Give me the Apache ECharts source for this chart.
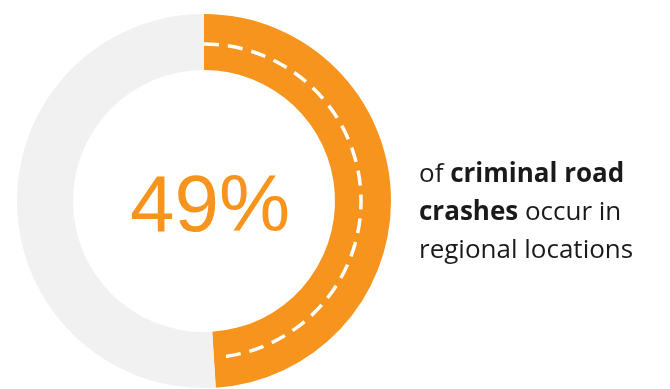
<!DOCTYPE html>
<html>
<head>
<meta charset="utf-8">
<script src="https://cdn.jsdelivr.net/npm/echarts@6/dist/echarts.min.js"></script>
<style>
  html, body { margin: 0; padding: 0; background: #ffffff; }
  #chart { width: 670px; height: 389px; }
</style>
</head>
<body>
<div id="chart"></div>
<script>
// Share of criminal road crashes by location
const shareLabels = ['Regional', 'Other'];
const shareValues = [49, 51];
const headline = '49%';
const captionLines = [
  [['of ', 'n'], ['criminal road', 'b']],
  [['crashes', 'b'], [' occur in', 'n']],
  [['regional locations', 'n']]
];

const ORANGE = '#F7941E';
const GREY = '#F1F1F1';
const CENTER = [204, 201];
const R_IN = 131;
const R_OUT = 187;
const R_DASH = 157;

const total = shareValues.reduce((a, b) => a + b, 0);

const chart = echarts.init(document.getElementById('chart'), null, { renderer: 'canvas' });

const captionText = captionLines
  .map(line => line.map(([t, s]) => '{' + s + '|' + t + '}').join(''))
  .join('\n');

chart.setOption({
  animation: false,
  backgroundColor: '#ffffff',
  series: [
    {
      type: 'pie',
      center: CENTER,
      radius: [R_IN, R_OUT],
      startAngle: 90,
      clockwise: true,
      silent: true,
      z: 1,
      label: { show: false },
      labelLine: { show: false },
      data: shareLabels.map((name, i) => ({
        name,
        value: shareValues[i],
        itemStyle: { color: i === 0 ? ORANGE : GREY }
      }))
    },
    {
      // dashed centre line running along the highlighted share
      type: 'custom',
      coordinateSystem: 'none',
      silent: true,
      z: 5,
      data: [[shareValues[0]]],
      renderItem: function (params, api) {
        const v = api.value(0);
        const start = -Math.PI / 2;
        const end = start + (v / total) * Math.PI * 2;
        return {
          type: 'arc',
          shape: { cx: CENTER[0], cy: CENTER[1], r: R_DASH, startAngle: start, endAngle: end - 0.03, clockwise: true },
          style: { fill: 'none', stroke: '#ffffff', lineWidth: 3.5, lineDash: [15, 9] }
        };
      }
    }
  ],
  graphic: [
    {
      type: 'text',
      left: 130,
      top: 169,
      style: {
        text: headline,
        fontFamily: 'Liberation Sans, Arial, sans-serif',
        fontSize: 80,
        fill: ORANGE
      }
    },
    {
      type: 'text',
      left: 419,
      top: 156,
      style: {
        text: captionText,
        fill: '#1a1a1a',
        lineHeight: 38,
        rich: {
          n: { fontFamily: 'Open Sans, sans-serif', fontSize: 26, fontWeight: 'normal', fill: '#1a1a1a', lineHeight: 38 },
          b: { fontFamily: 'Open Sans, sans-serif', fontSize: 26, fontWeight: 'bold', fill: '#1a1a1a', lineHeight: 38 }
        }
      }
    }
  ]
});
</script>
</body>
</html>
